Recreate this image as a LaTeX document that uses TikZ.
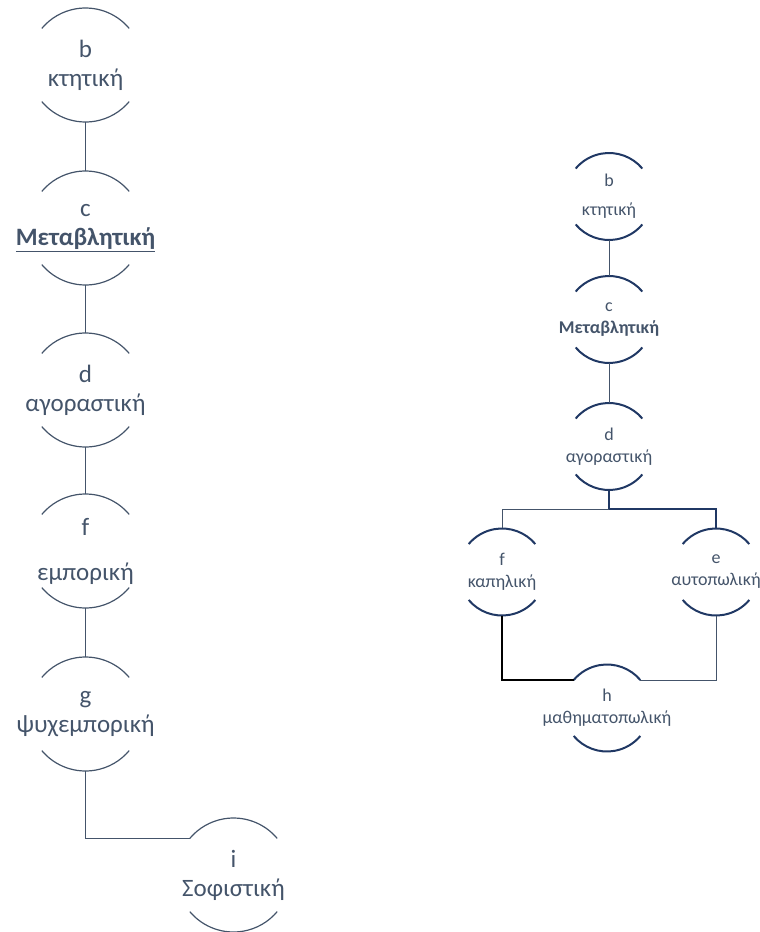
\documentclass[tikz,border=0pt]{standalone}
\usepackage{fontspec}
\setmainfont{Carlito}
\usetikzlibrary{positioning}
\definecolor{slate}{HTML}{44546A}
\definecolor{navy}{HTML}{203864}

\begin{document}
\begin{tikzpicture}[x=1pt, y=1pt,
  bignode/.style={rectangle, minimum width=114pt, minimum height=114pt, inner sep=0pt,
    align=center, text=slate, font=\fontsize{25}{29}\selectfont},
  smallnode/.style={rectangle, minimum width=87pt, minimum height=87pt, inner sep=0pt,
    align=center, text=slate, font=\fontsize{18}{22}\selectfont},
  bigarc/.style={draw=slate, line width=1.2pt},
  smallarc/.style={draw=navy, line width=2pt},
  thinlink/.style={draw=slate, line width=1pt},
  thicklink/.style={draw=navy, line width=2pt},
  blacklink/.style={draw=black, line width=2pt}]
  \useasboundingbox (0,0) rectangle (760,-932);

  % Left chain
  \node[bignode] (Lb) at (85.5,-65) {b\\κτητική};
  \node[bignode] (Lc) at (85.5,-228) {c\\\textbf{\underline{Μεταβλητική}}};
  \node[bignode] (Ld) at (85.5,-390) {d\\αγοραστική};
  \node[bignode] (Lf) at (85.5,-551) {f\\[16pt]εμπορική};
  \node[bignode] (Lg) at (85.5,-714) {g\\ψυχεμπορική};
  \node[bignode] (Li) at (233.5,-875) {i\\Σοφιστική};

  \foreach \n in {Lb,Lc,Ld,Lf,Lg,Li}
    \draw[bigarc] ([shift={(40:57pt)}]\n.center) arc[start angle=40, end angle=140, radius=57pt]
                  ([shift={(220:57pt)}]\n.center) arc[start angle=220, end angle=320, radius=57pt];

  \draw[bigarc] (Lb.south) -- (Lc.north);
  \draw[bigarc] (Lc.south) -- (Ld.north);
  \draw[bigarc] (Ld.south) -- (Lf.north);
  \draw[bigarc] (Lf.south) -- (Lg.north);
  \draw[bigarc] (Lg.south) |- ([shift={(140:57pt)}]Li.center);

  % Right tree
  \node[smallnode] (Rb) at (609,-196.5) {b\\[7pt]κτητική};
  \node[smallnode] (Rc) at (609,-319.5) {c\\\textbf{Μεταβλητική}};
  \node[smallnode] (Rd) at (609,-446.5) {d\\αγοραστική};
  \node[smallnode] (Rf) at (502,-572) {f\\καπηλική};
  \node[smallnode] (Re) at (716,-572) {e\\αυτοπωλική};
  \node[smallnode] (Rh) at (607,-708) {h\\μαθηματοπωλική};

  \foreach \n in {Rb,Rc,Rd,Rf,Re,Rh}
    \draw[smallarc] ([shift={(40:43.5pt)}]\n.center) arc[start angle=40, end angle=140, radius=43.5pt]
                    ([shift={(220:43.5pt)}]\n.center) arc[start angle=220, end angle=320, radius=43.5pt];

  \coordinate (split) at (609,-509);
  \draw[thinlink] (Rb.south) -- (Rc.north);
  \draw[thinlink] (Rc.south) -- (Rd.north);
  \draw[thicklink] (Rd.south) -- (split);
  \draw[thinlink] (split) -| (Rf.north);
  \draw[thicklink] (split) -| (Re.north);
  \draw[blacklink] (Rf.south) |- ([shift={(140:43.5pt)}]Rh.center);
  \draw[thinlink] (Re.south) |- ([shift={(40:43.5pt)}]Rh.center);
\end{tikzpicture}
\end{document}
